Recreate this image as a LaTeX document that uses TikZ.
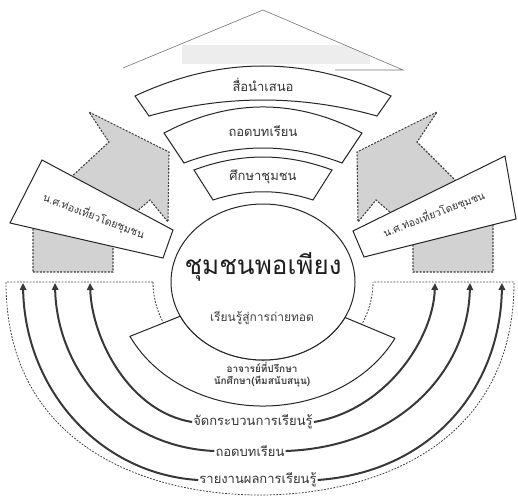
\documentclass[tikz,border=0pt]{standalone}
\usepackage{fontspec}
\setmainfont{Loma}[Script=Thai]
\usetikzlibrary{arrows.meta}
\begin{document}
\begin{tikzpicture}[x=1pt,y=1pt,yscale=-1,
  roofline/.style={draw=black!55, line width=0.6pt},
  bandbox/.style={draw=black!85, line width=1pt, fill=white},
  grayarrow/.style={fill=gray!35, draw=black!75, line width=1.1pt, dash pattern=on 2pt off 1.4pt},
  dashreg/.style={draw=black!75, line width=0.8pt, dash pattern=on 1.8pt off 1.4pt},
  flow/.style={draw=black!78, line width=2pt, -{Triangle[length=7pt,width=6.5pt]}},
  bandtxt/.style={font=\fontsize{13}{15}\selectfont, text=black!80, inner sep=1pt},
  sidetxt/.style={font=\fontsize{10.5}{12}\selectfont, text=black!80, inner sep=1pt},
  lbl/.style={font=\fontsize{13}{15}\selectfont, text=black!80, inner sep=1pt},
  smalltxt/.style={font=\bfseries\fontsize{10}{12}\selectfont, text=black!75, inner sep=1pt}
]
\useasboundingbox (0,0) rectangle (518,497);
\coordinate (C) at (263,282);

% roof and faded banner
\begin{scope}
  \clip (123,68) -- (263,10) -- (403,70) -- cycle;
  \fill[gray!14] (182,45) rectangle (370,64);
\end{scope}
\draw[roofline] (123,68) -- (263,10) -- (403,70) -- (335,70);

% dashed region
\draw[dashreg] (153,282) -- (6,282) .. controls (6,448) and (150,495) .. (260,495)
  .. controls (370,495) and (514,448) .. (514,282) -- (373,282);
\draw[dashreg] (153,282) arc[start angle=180, end angle=0, x radius=110, y radius=96];

% gray block arrows
\draw[grayarrow] (33,272) -- (113,272) -- (113,235) -- (128,219) -- (150,200) -- (168,222)
  -- (169,152) -- (89,112) -- (109,142) -- (68,180) -- (33,200) -- cycle;
\draw[grayarrow] (493,272) -- (413,272) -- (413,235) -- (398,219) -- (376,200) -- (358,222)
  -- (357,152) -- (437,112) -- (417,142) -- (458,183) -- (493,200) -- cycle;

% side boxes
\draw[bandbox] (42,160) -- (173,230) -- (163,258) -- (10,223) -- cycle;
\node[sidetxt, rotate=-21] (sideL) at (94,216) {น.ศ.ท่องเที่ยวโดยชุมชน};
\draw[bandbox] (353,231) -- (505,156) -- (516,219) -- (364,257) -- cycle;
\node[sidetxt, rotate=21] (sideR) at (434,214) {น.ศ.ท่องเที่ยวโดยชุมชน};

% top bands
\draw[bandbox] (135,96) .. controls (220.3,56) and (305.7,56) .. (391,96)
  -- (377,116) .. controls (301,94.7) and (225,94.7) .. (149,116) -- cycle;
\node[bandtxt] (b1) at (263,85) {สื่อนำเสนอ};
\draw[bandbox] (164,133) .. controls (230,98.3) and (296,98.3) .. (362,133)
  -- (342,163) .. controls (289.3,143) and (236.7,143) .. (184,163) -- cycle;
\node[bandtxt] (b2) at (263,131) {ถอดบทเรียน};
\draw[bandbox] (194,170) .. controls (240,152.7) and (286,152.7) .. (332,170)
  -- (313,200) .. controls (279.7,189) and (246.3,189) .. (213,200) -- cycle;
\node[bandtxt] (b3) at (263,177) {ศึกษาชุมชน};

% lower sector and central ellipse
\draw[bandbox] (C) ++(27:148 and 124) arc[start angle=27, end angle=154, x radius=148, y radius=124]
  -- (180.3,316.2) arc[start angle=154, end angle=27, x radius=92, y radius=78] -- cycle;
\draw[bandbox] (C) ellipse[x radius=92, y radius=78];
\node[font=\fontsize{26}{29}\selectfont, text=black!88, inner sep=1pt] (core) at (263,267) {ชุมชนพอเพียง};
\node[font=\fontsize{12}{14}\selectfont, text=black!75, inner sep=1pt] (learn) at (262,318) {เรียนรู้สู่การถ่ายทอด};
\node[smalltxt] (adv) at (262,367) {อาจารย์ที่ปรึกษา};
\node[smalltxt] (stu) at (262,382) {นักศึกษา(ทีมสนับสนุน)};

% bottom labels and curved arrows
\node[lbl] (l1) at (253,422) {จัดกระบวนการเรียนรู้};
\node[lbl] (l2) at (250,451) {ถอดบทเรียน};
\node[lbl] (l3) at (258,480) {รายงานผลการเรียนรู้};
\coordinate (tL1) at (90,283);
\coordinate (tL2) at (55,283);
\coordinate (tL3) at (23,283);
\coordinate (tR1) at (435,283);
\coordinate (tR2) at (470,283);
\coordinate (tR3) at (502,283);
\draw[flow] (l1.west) .. controls (130,412) and (92,340) .. (tL1);
\draw[flow] (l1.east) .. controls (385,410) and (433,340) .. (tR1);
\draw[flow] (l2.west) .. controls (120,447) and (57,370) .. (tL2);
\draw[flow] (l2.east) .. controls (400,447) and (468,370) .. (tR2);
\draw[flow] (l3.west) .. controls (100,474) and (25,390) .. (tL3);
\draw[flow] (l3.east) .. controls (430,472) and (500,390) .. (tR3);
\end{tikzpicture}
\end{document}
